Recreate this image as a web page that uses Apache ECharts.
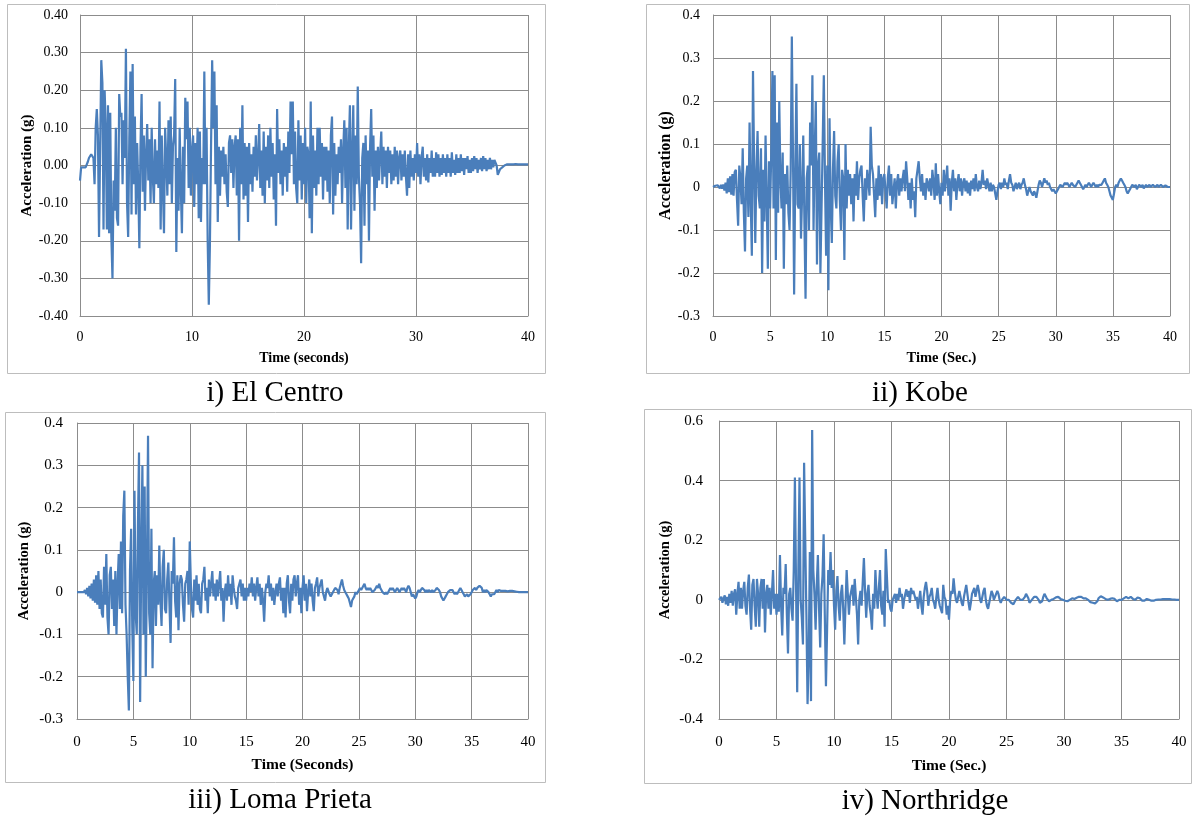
<!DOCTYPE html>
<html>
<head>
<meta charset="utf-8">
<script src="https://cdn.jsdelivr.net/npm/echarts@6/dist/echarts.min.js"></script>
<style>
html,body{margin:0;padding:0;background:#fff;}
#chart{width:1192px;height:816px;}
</style>
</head>
<body>
<div id="chart"></div>
<script>
// Sampling step of every record (seconds)
const dt = 0.1;

const titles = ["i) El Centro", "ii) Kobe", "iii) Loma Prieta", "iv) Northridge"];
const xAxisNames = ["Time (seconds)", "Time (Sec.)", "Time (Seconds)", "Time (Sec.)"];
const yAxisName = "Acceleration (g)";
const yMins = [-0.4, -0.3, -0.3, -0.4];
const yMaxs = [0.4, 0.4, 0.4, 0.6];
const yIntervals = [0.1, 0.1, 0.1, 0.2];
const xIntervals = [10, 5, 5, 5];

// acceleration values (g), one per dt from t = 0 s
const elCentro = [
-0.04,-0.005,-0.005,-0.005,-0.005,-0.005,-0.003,0.01,0.02,0.025,
0.03,0.025,0.02,-0.05,0.1,0.15,0.08,-0.19,0.05,0.28,
0.22,-0.17,0.2,0.1,-0.17,0.16,-0.18,0.14,-0.19,-0.30,
-0.04,-0.12,0.1,-0.14,-0.16,0.19,0.13,0.14,-0.05,0.12,
0.02,0.31,-0.1,-0.19,0.07,0.25,-0.13,0.27,-0.05,0.13,
-0.13,0.06,-0.05,-0.22,0.05,0.19,-0.07,0.08,-0.12,0.03,
0.11,-0.04,0.07,-0.1,0.1,-0.03,-0.1,0.07,-0.05,0.04,
-0.06,0.17,-0.17,0.08,-0.06,-0.18,0.1,0.02,-0.08,0.12,
-0.05,0.13,-0.1,0.05,0.08,0.23,-0.23,0.02,-0.12,0.1,
-0.06,-0.18,0.05,-0.1,0.18,0.07,0.17,-0.06,0.1,-0.08,
0.04,0.08,-0.11,0.06,-0.05,0.1,-0.14,0.09,-0.15,0.02,
-0.05,0.25,-0.05,0.1,-0.2,-0.37,-0.21,0.05,0.28,0.1,
0.25,-0.05,0.16,-0.15,0.05,-0.08,0.04,-0.03,0.05,-0.05,
0.03,-0.07,-0.11,0.06,0.08,-0.02,0.07,-0.06,0.05,0.08,
-0.08,0.07,-0.2,0.1,-0.05,0.16,-0.09,0.06,-0.08,0.05,
-0.15,0.06,-0.05,0.03,-0.07,0.05,-0.03,0.08,-0.04,0.02,
0.11,-0.06,0.04,-0.08,0.09,-0.1,0.05,-0.04,0.08,-0.06,
0.1,-0.03,0.06,-0.09,0.03,-0.16,0.15,-0.02,0.07,-0.05,
0.04,-0.08,0.06,-0.03,0.05,-0.07,0.09,-0.02,0.17,0.03,
0.17,-0.05,0.09,-0.06,-0.1,0.12,-0.04,0.08,-0.09,0.06,
-0.05,0.1,-0.1,0.05,0.03,-0.14,0.17,-0.18,0.08,-0.06,
0.04,-0.08,0.1,-0.05,0.1,-0.03,0.06,-0.09,0.05,-0.04,
0.05,-0.07,0.04,-0.1,0.08,0.13,-0.13,0.06,-0.08,0.03,
-0.05,0.05,-0.02,0.07,-0.1,0.04,0.12,-0.06,0.1,-0.17,
0.05,0.16,-0.17,0.03,0.16,-0.12,0.08,-0.05,0.21,-0.03,
-0.1,-0.26,0.02,0.06,-0.16,0.08,-0.05,0.04,-0.2,0.05,
0.15,-0.03,0.08,-0.12,0.04,-0.06,0.05,-0.04,0.03,0.09,
-0.05,0.05,-0.03,0.04,-0.06,0.05,-0.02,0.04,-0.05,0.03,
-0.04,0.05,-0.03,0.04,-0.05,0.02,0.04,-0.04,0.03,-0.03,
0.04,-0.03,-0.08,0.03,-0.06,0.04,-0.03,0.02,-0.04,0.03,
-0.02,0.06,-0.03,0.03,-0.05,0.02,0.05,-0.03,0.02,-0.04,
0.03,-0.045,0.02,-0.02,0.04,-0.03,0.02,-0.03,0.035,-0.02,
0.03,-0.03,0.02,-0.025,0.03,-0.02,0.02,-0.03,0.03,-0.02,
0.02,-0.03,0.035,-0.02,0.015,-0.025,0.03,-0.02,0.02,-0.02,
0.03,-0.015,0.02,-0.025,0.02,-0.01,0.025,-0.02,0.015,-0.02,
0.02,-0.015,0.025,-0.01,0.02,-0.02,0.015,-0.01,0.02,-0.015,
0.025,-0.01,0.02,-0.015,0.015,-0.01,0.02,-0.01,0.015,-0.005,
0.015,0.01,0.0,-0.025,-0.02,-0.01,-0.015,-0.005,-0.01,0.0,
0.0,0.003,0.0,0.003,0.005,0.003,0.004,0.003,0.003,0.004,
0.003,0.003,0.004,0.003,0.003,0.003,0.003,0.003,0.003,0.003,0.003
];

const kobe = [
0,0.002,0.003,0.002,0.004,0.002,-0.003,0.005,-0.004,0.006,
-0.008,0.01,-0.015,0.02,-0.012,0.025,-0.018,0.03,-0.02,0.035,
0.04,-0.03,-0.09,0.05,0.02,-0.04,0.09,-0.06,-0.15,0.02,
0.05,-0.07,0.15,-0.03,-0.16,0.27,0.05,-0.13,0.04,0.13,
-0.02,-0.05,0.09,-0.2,0.04,-0.08,0.12,-0.03,-0.19,0.06,
-0.05,0.08,0.27,-0.05,0.26,-0.17,0.15,-0.06,0.2,0.02,
-0.05,0.08,-0.19,0.03,-0.04,0.05,-0.06,-0.1,0.04,0.35,
0.08,-0.25,0.03,0.24,-0.04,-0.05,0.1,-0.12,-0.02,0.12,
-0.08,-0.26,0.02,0.05,-0.1,0.15,0.05,0.26,-0.1,0.08,
0.2,-0.18,0.05,0.08,-0.2,-0.05,0.1,0.26,0.02,-0.16,
0.05,-0.24,0.16,-0.04,-0.13,0.04,0.13,-0.02,-0.05,0.06,
0.1,-0.03,-0.1,0.04,0.02,-0.17,0.1,-0.05,0.04,-0.02,
0.03,-0.04,0.02,-0.08,0.03,-0.02,0.06,-0.03,0.02,0.04,
0.05,-0.02,-0.08,0.02,-0.03,0.04,0.01,-0.02,0.14,0.05,
0.03,-0.02,-0.07,0.02,-0.03,0.05,-0.02,0.03,-0.04,0.02,
0.03,-0.01,-0.05,0.02,0.05,-0.02,0.03,-0.04,-0.04,0.02,
-0.05,0.01,0.03,-0.02,0.02,-0.01,0.02,0.04,-0.01,0.06,
0.02,-0.03,0.01,-0.05,0.02,-0.03,-0.01,-0.07,0.02,0.04,
0.06,0.02,-0.01,0.03,-0.02,0.01,-0.03,0.02,0.01,-0.01,
0.02,-0.02,0.04,0.01,-0.03,0.055,-0.02,0.03,-0.01,-0.04,
0.01,-0.02,0.04,-0.01,0.02,0.05,-0.02,0.02,-0.055,0.01,
0.04,-0.01,0.02,-0.03,0.01,0.03,-0.01,0.02,-0.02,0.01,
0.02,-0.01,0.015,-0.015,0.01,-0.02,0.015,-0.005,0.02,-0.01,
0.03,0.0,-0.01,0.015,-0.005,0.01,0.04,0.005,0.015,-0.005,
0.02,0.005,-0.01,0.01,-0.01,0.005,0.0,-0.015,-0.03,-0.01,
0.005,0.01,-0.005,0.01,0.0,0.02,0.005,0.01,-0.005,0.015,
0.03,0.01,0.005,-0.01,0.0,0.01,-0.005,0.005,0.01,-0.005,
0.005,0.01,0.02,0.005,-0.005,-0.02,-0.01,0.0,-0.01,-0.015,
-0.02,-0.01,-0.015,-0.025,-0.01,0.005,0.015,0.01,0.0,0.01,
0.02,0.01,0.015,0.005,0.01,0.0,-0.005,-0.01,-0.005,-0.01,
-0.015,-0.01,-0.005,0.0,0.005,0.005,0.0,0.005,0.01,0.005,
0.01,0.005,0.0,0.005,0.01,0.005,0.005,0.0,0.005,0.01,
0.015,0.01,0.005,0.0,-0.005,0.0,0.005,0.0,0.005,0.01,
0.005,0.0,0.005,0.01,0.005,0.0,0.005,0.0,0.005,0.005,
0.005,0.01,0.015,0.02,0.01,0.005,0.0,-0.01,-0.02,-0.025,
-0.03,-0.015,0.0,0.005,0.0,0.01,0.015,0.02,0.015,0.01,
0.005,0.0,-0.01,-0.015,-0.01,-0.005,0.0,0.005,0.005,0.0,
0.005,-0.005,0.0,0.005,0.005,0.0,0.005,-0.003,0.0,0.005,
0.0,0.003,0.005,0.0,0.003,0.005,0.002,0.0,0.003,0.005,
0.0,0.003,0.005,0.003,0.0,0.002,0.004,0.002,0.0,0.001,0.0
];

const lomaPrieta = [
0,0,0,0,0,0.002,0.0,0.005,-0.005,0.01,
-0.01,0.015,-0.015,0.02,-0.02,0.03,-0.025,0.04,-0.03,0.05,
-0.04,0.03,-0.05,-0.06,0.06,-0.03,0.09,-0.06,-0.1,0.04,
0.06,-0.04,0.03,-0.08,0.05,-0.1,0.02,0.09,-0.04,0.12,
-0.05,0.18,0.24,-0.03,-0.1,-0.2,-0.28,0.05,0.15,-0.08,
-0.21,0.24,-0.05,-0.1,0.15,0.33,-0.26,0.1,0.3,-0.1,
0.25,-0.2,0.05,0.37,-0.05,-0.1,0.15,-0.18,0.02,0.05,
-0.08,0.04,-0.03,0.11,-0.02,-0.08,0.06,0.1,-0.04,-0.05,
0.03,0.07,-0.03,-0.12,0.05,0.02,0.13,-0.02,-0.06,0.04,
-0.09,0.02,0.04,0.03,-0.03,-0.07,0.02,0.03,0.05,-0.03,
0.12,0.02,-0.04,-0.06,0.03,-0.02,0.04,-0.03,0.02,-0.04,
-0.05,0.02,0.03,0.06,-0.02,0.01,-0.05,0.03,-0.01,0.02,
0.05,-0.01,0.02,-0.02,0.03,-0.01,0.02,0.05,-0.02,0.01,
-0.07,0.0,0.02,-0.02,0.04,-0.01,0.02,-0.03,0.04,0.01,
-0.01,-0.02,-0.04,0.01,0.02,0.03,-0.01,0.02,-0.02,0.01,
-0.02,0.01,-0.01,0.02,0.0,0.035,-0.01,0.02,-0.02,0.01,
0.035,-0.01,0.02,-0.03,0.01,-0.02,-0.07,0.0,0.02,0.01,
0.04,-0.01,0.02,-0.02,0.01,-0.03,0.0,0.02,-0.01,0.02,
0.035,-0.02,0.01,-0.05,0.01,-0.06,0.02,0.04,-0.02,-0.05,
0.02,-0.02,0.03,0.04,-0.01,0.02,0.04,-0.03,0.01,-0.05,
0.01,0.04,-0.02,0.02,-0.045,0.0,0.03,-0.01,0.02,-0.02,
-0.045,0.01,0.02,0.035,-0.01,0.01,0.02,0.03,0.0,-0.01,
-0.02,0.0,0.01,0.01,-0.005,-0.01,-0.01,0.0,0.005,0.01,
0.01,0.005,-0.005,0.01,0.02,0.03,0.015,0.005,0.0,-0.005,
-0.01,-0.015,-0.025,-0.035,-0.02,-0.02,-0.01,0.0,-0.005,0.0,
0.0,0.01,0.005,0.01,0.015,0.02,0.01,0.005,0.01,0.005,
0.01,0.005,0.0,0.0,0.005,0.01,0.015,0.01,0.02,0.01,
0.005,0.0,0.0,-0.005,0.0,-0.005,0.0,0.005,0.01,0.005,
0.01,0.005,0.0,0.005,0.01,0.005,0.0,0.005,0.01,0.005,
0.01,0.005,0.0,0.01,0.015,0.01,0.0,-0.01,-0.005,-0.01,
-0.015,-0.01,0.0,0.005,0.0,0.005,0.01,0.01,0.005,0.0,
0.005,0.0,0.005,0.005,0.0,0.005,0.0,0.0,0.005,0.01,
0.01,0.005,0.0,-0.01,-0.015,-0.02,-0.015,-0.01,-0.005,0.0,
0.0,0.005,0.005,0.005,0.0,-0.005,0.0,-0.005,0.0,0.005,
0.01,0.005,0.0,-0.005,-0.01,-0.01,-0.005,-0.01,-0.01,-0.005,
0.0,0.005,0.005,0.01,0.005,0.01,0.01,0.015,0.017,0.01,
0.0,0.005,0.0,0.005,0.005,0.0,-0.005,-0.01,-0.005,-0.005,
-0.005,0.0,0.005,0.0,0.005,0.003,0.003,0.003,0.003,0.002,
0.003,0.003,0.002,0.003,0.003,0.002,0.003,0.002,0.002,0.002,
0.001,0.001,0.0,0.0,0.0,0.0,0.0,0.0,0.0,0.0,0.0
];

const northridge = [
0,0.005,0.01,-0.01,0.005,0.015,-0.015,0.01,-0.02,0.02,
-0.01,0.03,-0.02,0.02,0.035,-0.05,0.02,0.06,-0.03,0.04,
-0.03,0.03,0.06,-0.02,-0.05,0.04,0.085,-0.03,-0.1,0.05,
0.07,-0.02,-0.09,0.07,0.02,-0.09,0.04,0.07,-0.03,0.07,
-0.11,0.02,0.05,-0.03,0.04,-0.05,0.02,0.1,-0.03,0.02,
-0.05,0.02,-0.04,0.15,-0.02,-0.12,0.04,0.02,0.12,-0.05,
-0.18,0.02,0.04,-0.03,-0.07,0.1,0.41,0.05,-0.31,0.1,
0.41,0.0,-0.06,-0.15,0.46,0.2,-0.05,-0.35,-0.2,0.16,
-0.34,0.57,0.1,0.02,-0.1,0.05,0.15,-0.03,-0.16,0.02,
0.08,0.22,-0.05,-0.29,-0.1,0.1,0.05,0.16,0.04,0.1,
-0.02,-0.1,0.03,0.08,-0.02,-0.07,0.02,0.05,-0.03,-0.15,
-0.02,0.1,0.02,-0.05,0.01,0.03,0.05,-0.02,0.07,0.01,
-0.05,-0.15,0.0,0.03,-0.02,0.06,0.14,0.03,-0.06,0.02,
0.05,-0.02,-0.05,-0.1,0.02,-0.03,0.1,0.02,-0.03,0.04,
0.1,-0.02,-0.05,0.03,-0.09,0.17,0.08,-0.01,0.0,-0.03,
-0.04,0.0,0.01,0.02,-0.01,0.02,0.0,0.04,0.01,0.02,
-0.03,0.0,0.02,0.035,0.01,0.03,-0.01,0.04,0.02,0.03,
0.03,0.0,0.01,-0.03,0.0,0.03,-0.02,-0.05,0.01,0.04,
0.06,0.03,-0.02,0.01,0.02,0.04,0.0,-0.01,-0.03,0.01,
0.04,0.0,-0.02,-0.02,-0.045,0.05,0.01,0.0,-0.05,-0.02,
-0.067,0.0,0.03,0.02,0.072,0.03,0.0,-0.01,0.01,0.03,
0.01,-0.01,-0.02,0.01,0.03,0.05,0.02,-0.01,-0.035,-0.01,
0.02,0.03,0.04,0.01,0.03,0.05,0.03,0.0,-0.01,0.01,
0.03,0.04,0.0,-0.02,-0.03,-0.01,0.01,0.03,0.02,0.0,
0.01,0.02,0.03,0.02,0.0,-0.01,0.0,0.005,0.01,0.005,
0.0,0.005,0.0,-0.005,-0.01,-0.012,-0.015,-0.01,0.0,0.005,
0.01,0.005,0.0,-0.005,0.0,0.005,0.01,0.02,0.015,0.005,
-0.01,-0.005,0.0,0.005,0.01,0.015,0.01,0.005,0.0,-0.01,
-0.015,-0.005,0.01,0.02,0.015,0.005,0.0,-0.005,-0.003,0.0,
0.0,0.003,0.005,0.008,0.01,0.01,0.005,0.003,0.0,0.0,
0.0,-0.003,-0.005,-0.005,-0.005,0.0,0.003,0.005,0.005,0.003,
0.005,0.007,0.008,0.01,0.01,0.01,0.008,0.005,0.005,0.005,
0.005,0.0,-0.005,-0.008,-0.01,-0.01,-0.01,-0.012,-0.012,-0.005,
0.005,0.01,0.012,0.012,0.008,0.005,0.003,0.0,0.0,0.002,
0.003,0.005,0.005,0.005,0.003,0.0,-0.005,-0.003,0.0,0.0,
0.0,0.003,0.005,0.008,0.01,0.01,0.005,0.008,0.01,0.005,
0.003,0.0,0.0,0.005,0.008,0.01,0.005,0.0,-0.003,-0.005,
-0.003,0.0,0.003,0.003,0.0,-0.002,-0.003,-0.003,-0.003,-0.002,
0.0,0.0,0.001,0.0,0.001,0.002,0.002,0.001,0.002,0.002,
0.002,0.001,0.002,0.002,0.001,0.0,0.001,0.001,0.0,0.0,0.0
];

const records = [elCentro, kobe, lomaPrieta, northridge];

// ---- layout (pixels) ----
const grids = [
  {left: 80,  top: 15,  width: 448, height: 301},
  {left: 713, top: 15,  width: 457, height: 301},
  {left: 77,  top: 423, width: 451, height: 296},
  {left: 719, top: 421, width: 460, height: 298}
];
const yNameGaps = [45, 39, 45, 46];
const xNameGaps = [35, 35, 38, 39];
const xNameSizes = [14, 14.5, 15.5, 15.5];
const yNameSizes = [15, 16, 14.5, 14.5];
const tickSizes = [14, 14, 15, 15];
const yLabelMargins = [12, 13, 14, 16];
const xLabelMargins = [14, 14, 16, 16];
const frames = [
  {x: 7,   y: 4,   w: 538, h: 369},
  {x: 646, y: 4,   w: 543, h: 369},
  {x: 5,   y: 412, w: 540, h: 370},
  {x: 644, y: 409, w: 547, h: 374}
];
const captionPos = [[275, 393], [920, 393], [280, 800], [925, 801]];

const serif = '"Liberation Serif", "Times New Roman", serif';
const gridColor = '#8c8c8c';

const option = {
  backgroundColor: '#ffffff',
  animation: false,
  grid: grids.map(g => Object.assign({containLabel: false, show: false}, g)),
  xAxis: grids.map((g, i) => ({
    type: 'value', gridIndex: i, min: 0, max: 40, interval: xIntervals[i],
    name: xAxisNames[i], nameLocation: 'middle', nameGap: xNameGaps[i],
    nameTextStyle: {fontFamily: serif, fontWeight: 'bold', fontSize: xNameSizes[i], color: '#000'},
    axisLine: {show: true, onZero: false, lineStyle: {color: gridColor, width: 1}},
    axisTick: {show: false},
    axisLabel: {fontFamily: serif, fontSize: tickSizes[i], color: '#000', margin: xLabelMargins[i]},
    splitLine: {show: true, lineStyle: {color: gridColor, width: 1}}
  })),
  yAxis: grids.map((g, i) => ({
    type: 'value', gridIndex: i, min: yMins[i], max: yMaxs[i], interval: yIntervals[i],
    name: yAxisName, nameLocation: 'middle', nameGap: yNameGaps[i], nameRotate: 90,
    nameTextStyle: {fontFamily: serif, fontWeight: 'bold', fontSize: yNameSizes[i], color: '#000'},
    axisLine: {show: true, lineStyle: {color: gridColor, width: 1}},
    axisTick: {show: false},
    axisLabel: {
      fontFamily: serif, fontSize: tickSizes[i], color: '#000', margin: yLabelMargins[i],
      formatter: i === 0 ? (v => v.toFixed(2)) : (v => String(+v.toFixed(2)))
    },
    splitLine: {show: true, lineStyle: {color: gridColor, width: 1}}
  })),
  series: records.map((rec, i) => ({
    type: 'line', xAxisIndex: i, yAxisIndex: i,
    showSymbol: false, symbol: 'none', sampling: null,
    lineStyle: {color: '#4a7ebb', width: 2.2},
    data: rec.map((v, k) => [+(k * dt).toFixed(1), v])
  })),
  graphic: frames.map(f => ({
    type: 'rect', z: -10, silent: true,
    shape: {x: f.x + 0.5, y: f.y + 0.5, width: f.w, height: f.h},
    style: {fill: 'none', stroke: '#bdbdbd', lineWidth: 1}
  })).concat(captionPos.map((p, i) => ({
    type: 'text', silent: true, x: p[0], y: p[1],
    style: {text: titles[i], font: '29px ' + serif, fill: '#000', textAlign: 'center', textVerticalAlign: 'middle'}
  })))
};

const chart = echarts.init(document.getElementById('chart'), null, {renderer: 'canvas'});
chart.setOption(option);
</script>
</body>
</html>
